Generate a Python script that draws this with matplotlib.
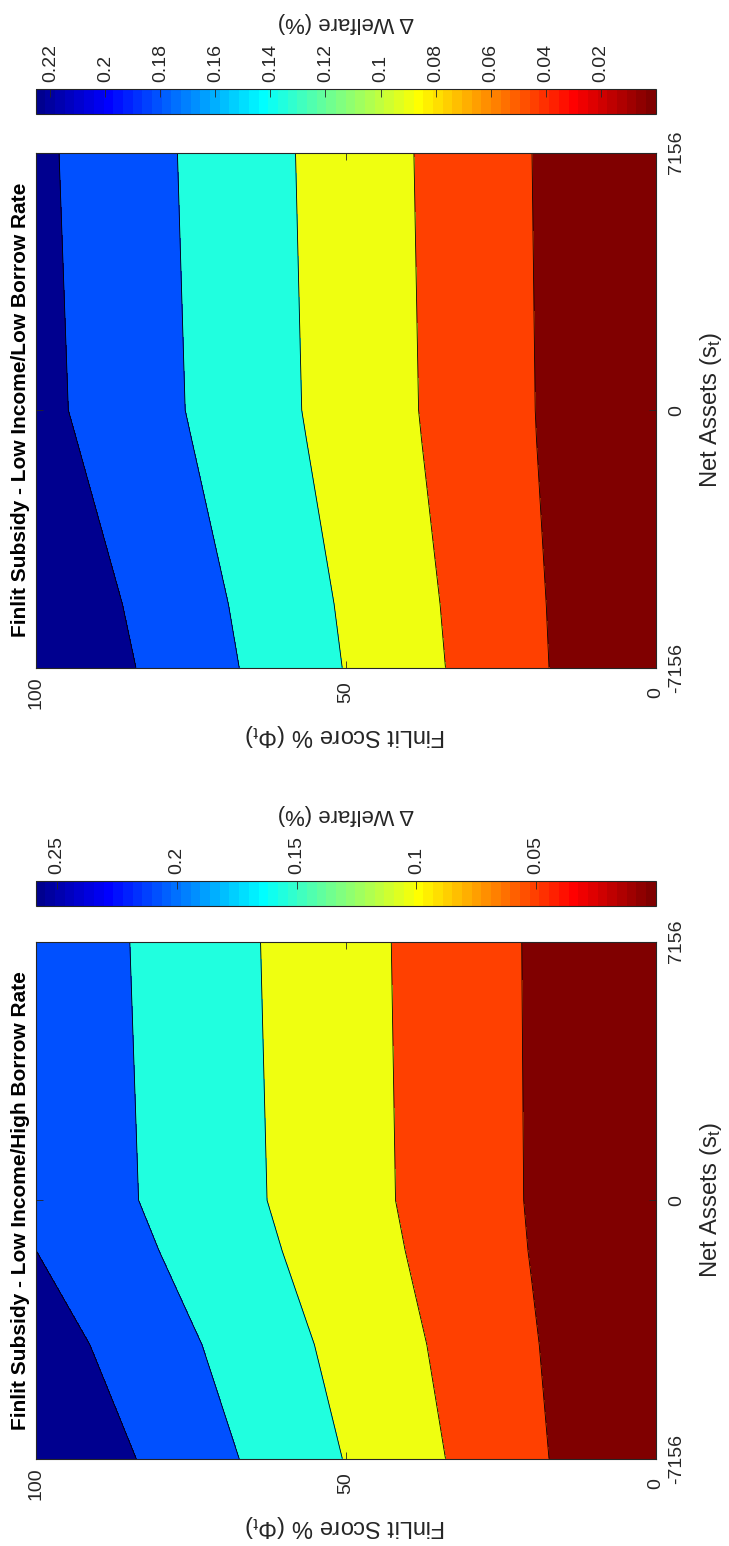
import numpy as np
import matplotlib
matplotlib.use("Agg")
import matplotlib.pyplot as plt
from matplotlib.colors import LinearSegmentedColormap, Normalize
from matplotlib.cm import ScalarMappable

plt.rcParams['font.family'] = ['Liberation Sans', 'DejaVu Sans']
plt.rcParams['mathtext.fontset'] = 'custom'
plt.rcParams['mathtext.rm'] = 'Liberation Sans'
plt.rcParams['mathtext.it'] = 'Liberation Sans:italic'
plt.rcParams['mathtext.default'] = 'regular'
plt.rcParams['xtick.labelsize'] = 14
plt.rcParams['ytick.labelsize'] = 14

# FinLit score nodes (%)
finlit = [0, 20, 100]

# Low income / low borrow rate: welfare change (%) per asset node and finlit node
assets_low = [-7156, -5400, -800, 0, 7156]
welfare_low = [[0.0, 0.0437, 0.2243],
               [0.0, 0.0426, 0.2186],
               [0.0, 0.0391, 0.2011],
               [0.0, 0.0387, 0.1983],
               [0.0, 0.0377, 0.1952]]
levels_low = [0.0376, 0.0751, 0.1127, 0.1502, 0.1878]
clim_low = (0.0, 0.2253)
cticks_low = [0.02, 0.04, 0.06, 0.08, 0.1, 0.12, 0.14, 0.16, 0.18, 0.2, 0.22]

# Low income / high borrow rate
assets_high = [-7156, -4000, -1400, 0, 7156]
welfare_high = [[0.0, 0.0502, 0.2579],
                [0.0, 0.0460, 0.2366],
                [0.0, 0.0419, 0.2160],
                [0.0, 0.0405, 0.2073],
                [0.0, 0.0399, 0.2038]]
levels_high = [0.0432, 0.0863, 0.1295, 0.1727, 0.2158]
clim_high = (0.0, 0.259)
cticks_high = [0.05, 0.1, 0.15, 0.2, 0.25]

asset_ticks = [-7156, 0, 7156]
finlit_ticks = [0, 50, 100]

# matlab style jet(64), flipped so low values are dark red
jet = LinearSegmentedColormap.from_list(
    'jet64', [(0, (0, 0, 0.5625)), (7/63, (0, 0, 1)), (23/63, (0, 1, 1)),
              (39/63, (1, 1, 0)), (55/63, (1, 0, 0)), (1, (0.5, 0, 0))], N=64).reversed()
band_colors = [jet(k / 5) for k in range(6)]

W, H = 729, 1546
gray = '#262626'
fig = plt.figure(figsize=(W / 100, H / 100), dpi=100)


def box(x0, y0, x1, y1):
    return [x0 / W, 1 - y1 / H, (x1 - x0) / W, (y1 - y0) / H]


def fpos(x, y):
    return x / W, 1 - y / H


def draw(assets, welfare, levels, clim, cticks, title, ax_px, cb_px):
    ax = fig.add_axes(box(*ax_px))
    z = np.array(welfare)
    bounds = [clim[0]] + levels + [clim[1]]
    ax.contourf(finlit, assets, z, levels=bounds, colors=band_colors)
    ax.contour(finlit, assets, z, levels=levels, colors='k', linewidths=0.6)
    ax.set_xlim(100, 0)
    ax.set_ylim(-7156, 7156)
    ax.set_xticks(finlit_ticks)
    ax.set_xticklabels([str(t) for t in finlit_ticks])
    ax.set_yticks(asset_ticks)
    ax.set_yticklabels([str(t) for t in asset_ticks])
    ax.yaxis.tick_right()
    ax.tick_params(direction='in', length=5, width=0.6, color=gray, labelcolor=gray,
                   top=True, bottom=True, left=True, right=True,
                   labelleft=False, labelright=True, labelsize=14)
    ax.tick_params(axis='x', pad=17.9, labelrotation=90)
    ax.tick_params(axis='y', pad=9, labelrotation=90)
    plt.setp(ax.get_xticklabels(), va='center', ha='center')
    plt.setp(ax.get_yticklabels(), va='center', ha='left')
    for s in ax.spines.values():
        s.set_color(gray)
        s.set_linewidth(0.8)

    # colorbar sits above the panel, values rising to the left
    cax = fig.add_axes(box(*cb_px))
    cb = fig.colorbar(ScalarMappable(Normalize(*clim), jet), cax=cax,
                      orientation='horizontal', ticklocation='top')
    cax.invert_xaxis()
    cb.set_ticks(cticks)
    cb.set_ticklabels(['%g' % t for t in cticks])
    cax.tick_params(direction='in', length=6, width=0.6, color=gray, labelcolor=gray,
                    labelrotation=90, labelsize=14, pad=5)
    cb.outline.set_edgecolor(gray)
    cb.outline.set_linewidth(0.8)

    x0, y0, x1, y1 = ax_px
    xc = (x0 + x1) / 2
    yc = (y0 + y1) / 2
    fig.text(*fpos(21, yc), title, rotation=90, fontsize=15, fontweight='bold',
             ha='center', va='center')
    fig.text(*fpos(711, yc), 'Net Assets (s$_t$)', rotation=90, fontsize=17.2,
             color=gray, ha='center', va='center')
    fig.text(*fpos(xc, y1 + 67), 'FinLit Score % ($\\Phi_t$)', rotation=180, fontsize=17,
             color=gray, ha='center', va='center')
    fig.text(*fpos(xc, cb_px[1] - 67), '\u0394 Welfare (%)', rotation=180, fontsize=15.9,
             color=gray, ha='center', va='center')


draw(assets_low, welfare_low, levels_low, clim_low, cticks_low,
     'Finlit Subsidy - Low Income/Low Borrow Rate',
     (35.7, 152.7, 655.7, 667.7), (35.7, 89.3, 655.7, 114.3))
draw(assets_high, welfare_high, levels_high, clim_high, cticks_high,
     'Finlit Subsidy - Low Income/High Borrow Rate',
     (35.7, 941.7, 655.7, 1458.7), (35.7, 881.0, 655.7, 905.7))

fig.savefig('out.png', dpi=100)
